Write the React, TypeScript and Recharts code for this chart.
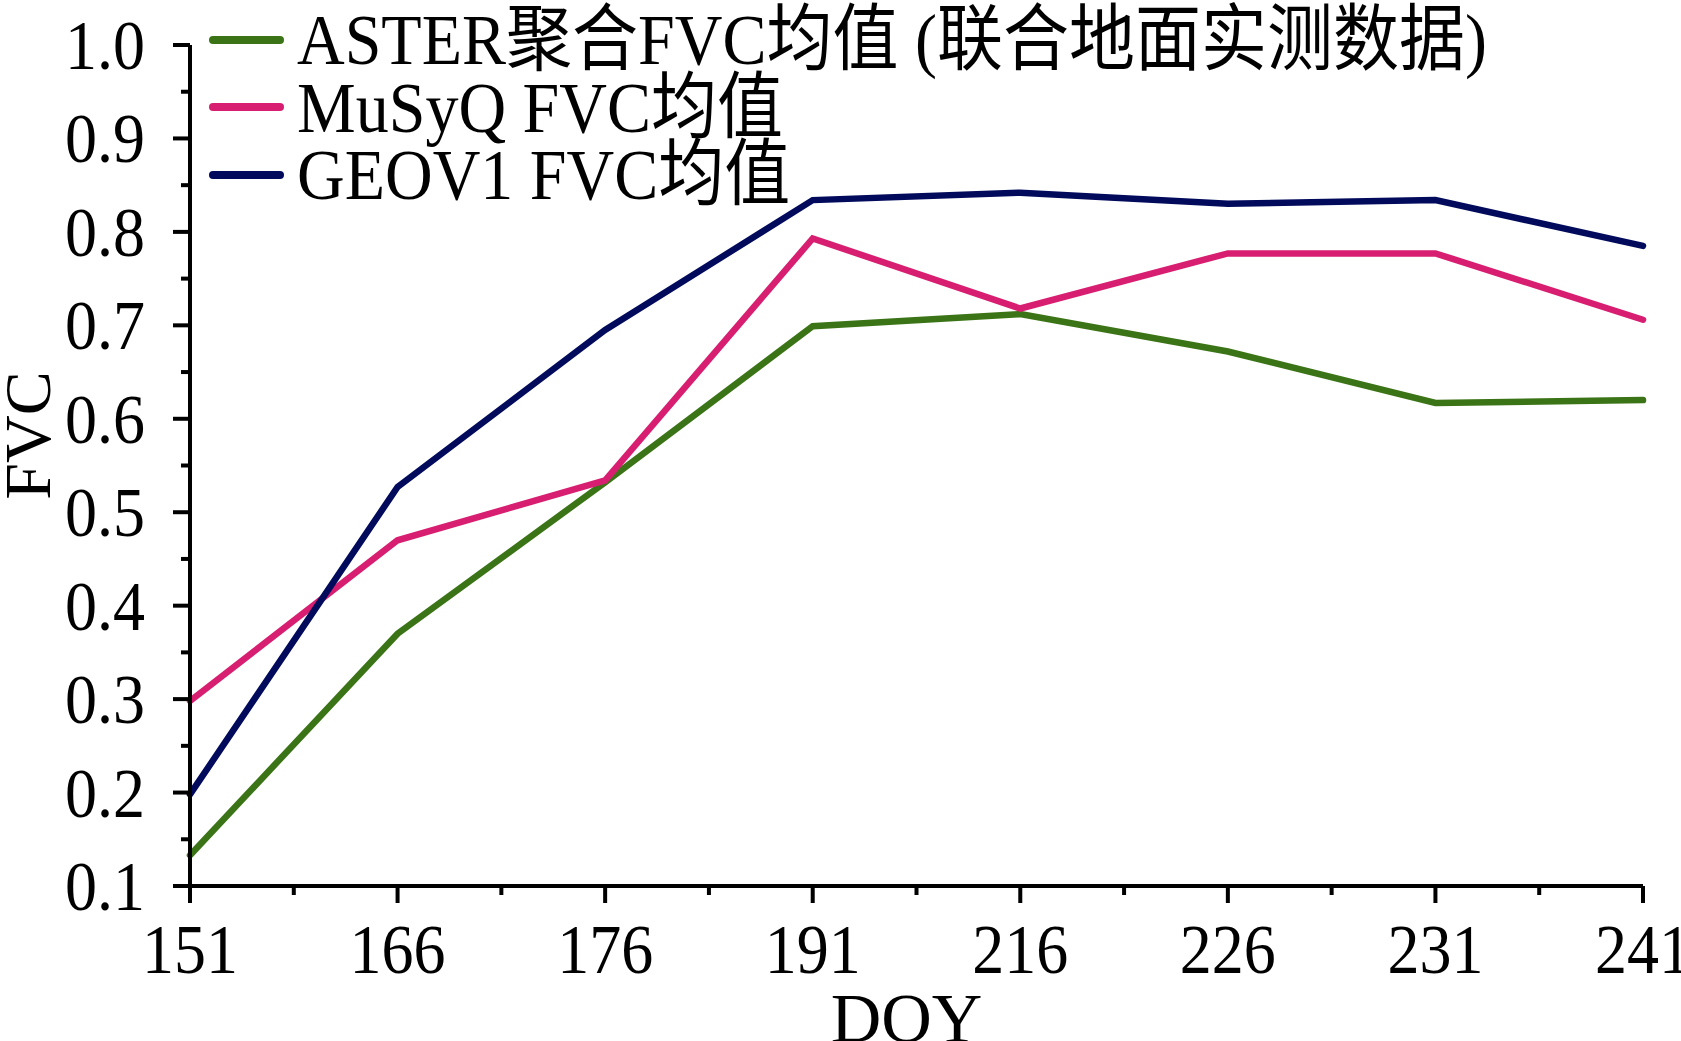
import React from "react";
import { LineChart, Line, XAxis, YAxis, Legend, Label } from "recharts";

// DOY categories and FVC means
const doyLabels = ["151", "166", "176", "191", "216", "226", "231", "241"];
const asterFvc = [0.133, 0.37, 0.532, 0.699, 0.712, 0.672, 0.617, 0.62];
const musyqFvc = [0.298, 0.47, 0.534, 0.793, 0.718, 0.777, 0.777, 0.706];
const geov1Fvc = [0.198, 0.527, 0.695, 0.834, 0.842, 0.83, 0.834, 0.785];

const yMajorTicks = [0.1, 0.2, 0.3, 0.4, 0.5, 0.6, 0.7, 0.8, 0.9, 1.0];
const yMinorTicks = [0.15, 0.25, 0.35, 0.45, 0.55, 0.65, 0.75, 0.85, 0.95];

const seriesNames = [
  "ASTER聚合FVC均值 (联合地面实测数据)",
  "MuSyQ FVC均值",
  "GEOV1 FVC均值",
];

const data = doyLabels.map((doy, i) => ({
  idx: i,
  doy,
  aster: asterFvc[i],
  musyq: musyqFvc[i],
  geov1: geov1Fvc[i],
}));

const xTicks = doyLabels.flatMap((_, i) => (i < doyLabels.length - 1 ? [i, i + 0.5] : [i]));
const yTicks = [...yMajorTicks, ...yMinorTicks].sort((a, b) => a - b);

const FONT = "'Liberation Serif', 'Times New Roman', 'Noto Sans CJK SC', serif";

function YTick(props: any) {
  const { x, y, payload } = props;
  const v = payload.value;
  const major = yMajorTicks.some((t) => Math.abs(t - v) < 1e-6);
  return (
    <g>
      <line x1={x} x2={x - (major ? 17 : 9)} y1={y} y2={y} stroke="#000" strokeWidth={4} />
      {major && (
        <text
          transform={`translate(${x - 45} ${y + 24}) scale(1 1.1)`}
          textAnchor="end"
          fontSize={64}
          fontFamily={FONT}
          fill="#000"
        >
          {v.toFixed(1)}
        </text>
      )}
    </g>
  );
}

function XTick(props: any) {
  const { x, y, payload } = props;
  const v = payload.value;
  const major = Number.isInteger(v);
  return (
    <g>
      <line x1={x} x2={x} y1={y} y2={y + (major ? 17 : 9)} stroke="#000" strokeWidth={4} />
      {major && (
        <text
          transform={`translate(${x} ${y + 87}) scale(1 1.1)`}
          textAnchor="middle"
          fontSize={64}
          fontFamily={FONT}
          fill="#000"
        >
          {doyLabels[v]}
        </text>
      )}
    </g>
  );
}

function renderLegend(props: any) {
  const items = [...props.payload].sort(
    (a: any, b: any) => seriesNames.indexOf(a.value) - seriesNames.indexOf(b.value)
  );
  return (
    <div style={{ fontFamily: FONT }}>
      {items.map((entry: any) => (
        <div
          key={entry.value}
          style={{ display: "flex", alignItems: "center", height: 67.5, whiteSpace: "nowrap" }}
        >
          <div
            style={{
              width: 75,
              height: 8,
              borderRadius: 4,
              background: entry.color,
              marginRight: 13,
            }}
          />
          <span
            style={{
              display: "inline-block",
              fontSize: 66,
              lineHeight: "67.5px",
              color: "#000",
              transform: "scaleY(1.1)",
            }}
          >
            {entry.value}
          </span>
        </div>
      ))}
    </div>
  );
}

export default function App() {
  return (
    <div style={{ position: "absolute", left: 0, top: 0, background: "#fff" }}>
      <LineChart
        width={1681}
        height={1041}
        data={data}
        margin={{ top: 45, right: 38, bottom: 0, left: 0 }}
      >
        <XAxis
          dataKey="idx"
          type="number"
          domain={[0, doyLabels.length - 1]}
          ticks={xTicks}
          interval={0}
          height={155}
          tickLine={false}
          tickSize={0}
          tickMargin={0}
          tick={<XTick />}
          axisLine={{ stroke: "#000", strokeWidth: 4 }}
        >
          <Label
            content={(p: any) => {
              const vb = p.viewBox;
              return (
                <text
                  x={vb.x + vb.width / 2 - 10}
                  y={vb.y + 156}
                  textAnchor="middle"
                  fontSize={70}
                  fontFamily={FONT}
                  fill="#000"
                >
                  DOY
                </text>
              );
            }}
          />
        </XAxis>
        <YAxis
          type="number"
          domain={[0.1, 1.0]}
          ticks={yTicks}
          interval={0}
          width={190}
          tickLine={false}
          tickSize={0}
          tickMargin={0}
          tick={<YTick />}
          axisLine={{ stroke: "#000", strokeWidth: 4 }}
        >
          <Label
            content={(p: any) => {
              const vb = p.viewBox;
              const cy = vb.y + vb.height / 2 - 30;
              return (
                <text
                  x={50}
                  y={cy}
                  transform={`rotate(-90 50 ${cy})`}
                  textAnchor="middle"
                  fontSize={66}
                  fontFamily={FONT}
                  fill="#000"
                >
                  FVC
                </text>
              );
            }}
          />
        </YAxis>
        <Legend
          layout="vertical"
          verticalAlign="middle"
          align="center"
          wrapperStyle={{ top: 6, left: 209, width: "auto", height: "auto" }}
          content={renderLegend}
        />
        <Line
          type="linear"
          dataKey="aster"
          name={seriesNames[0]}
          stroke="#3b7416"
          strokeWidth={6.5}
          strokeLinecap="round"
          dot={false}
          isAnimationActive={false}
        />
        <Line
          type="linear"
          dataKey="musyq"
          name={seriesNames[1]}
          stroke="#d81e71"
          strokeWidth={6.5}
          strokeLinecap="round"
          dot={false}
          isAnimationActive={false}
        />
        <Line
          type="linear"
          dataKey="geov1"
          name={seriesNames[2]}
          stroke="#020a5c"
          strokeWidth={6.5}
          strokeLinecap="round"
          dot={false}
          isAnimationActive={false}
        />
      </LineChart>
    </div>
  );
}
